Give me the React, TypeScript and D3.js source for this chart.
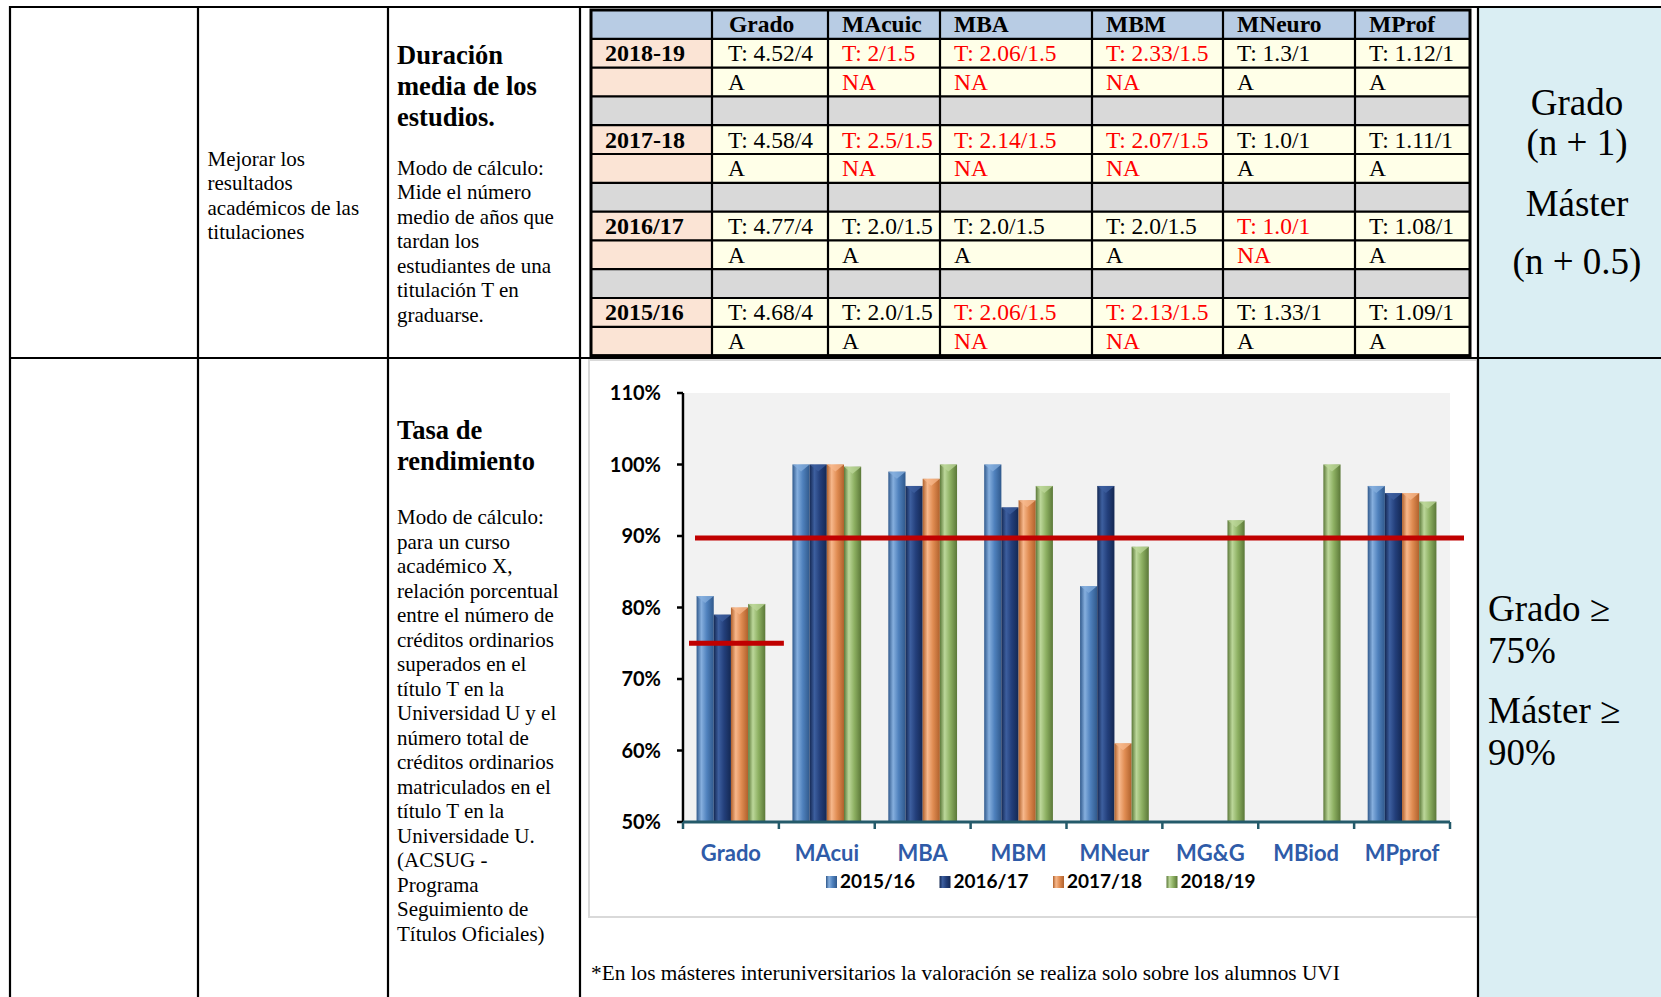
import React from 'react';
import * as d3 from 'd3';

// ---- chart data (Tasa de rendimiento) ----
const CATEGORIES = ['Grado', 'MAcui', 'MBA', 'MBM', 'MNeur', 'MG&G', 'MBiod', 'MPprof'];
const SERIES = ['2015/16', '2016/17', '2017/18', '2018/19'];
const RATE_2015_16 = [81.6, 100, 99, 100, 83, null, null, 97];
const RATE_2016_17 = [79, 100, 97, 94, 97, null, null, 96];
const RATE_2017_18 = [80, 100, 98, 95, 61, null, null, 96];
const RATE_2018_19 = [80.5, 99.7, 100, 97, 88.5, 92.2, 100, 94.8];
const Y_TICKS = [50, 60, 70, 80, 90, 100, 110];
const TARGET_GRADO = 75;
const TARGET_MASTER = 90;

// ---- table data (Duración media de los estudios) ----
const TITULOS = ['Grado', 'MAcuic', 'MBA', 'MBM', 'MNeuro', 'MProf'];
const CURSOS = ['2018-19', '2017-18', '2016/17', '2015/16'];
const DUR_2018_19 = ['T: 4.52/4', 'T: 2/1.5', 'T: 2.06/1.5', 'T: 2.33/1.5', 'T: 1.3/1', 'T: 1.12/1'];
const VAL_2018_19 = ['A', 'NA', 'NA', 'NA', 'A', 'A'];
const DUR_2017_18 = ['T: 4.58/4', 'T: 2.5/1.5', 'T: 2.14/1.5', 'T: 2.07/1.5', 'T: 1.0/1', 'T: 1.11/1'];
const VAL_2017_18 = ['A', 'NA', 'NA', 'NA', 'A', 'A'];
const DUR_2016_17 = ['T: 4.77/4', 'T: 2.0/1.5', 'T: 2.0/1.5', 'T: 2.0/1.5', 'T: 1.0/1', 'T: 1.08/1'];
const VAL_2016_17 = ['A', 'A', 'A', 'A', 'NA', 'A'];
const DUR_2015_16 = ['T: 4.68/4', 'T: 2.0/1.5', 'T: 2.06/1.5', 'T: 2.13/1.5', 'T: 1.33/1', 'T: 1.09/1'];
const VAL_2015_16 = ['A', 'A', 'NA', 'NA', 'A', 'A'];

const MEJORAR = ['Mejorar los', 'resultados', 'académicos de las', 'titulaciones'];
const DUR_TITLE = ['Duración', 'media de los', 'estudios.'];
const DUR_MODO = ['Modo de cálculo:', 'Mide el número', 'medio de años que', 'tardan los', 'estudiantes de una', 'titulación T en', 'graduarse.'];
const TASA_TITLE = ['Tasa de', 'rendimiento'];
const TASA_MODO = [
  'Modo de cálculo:', 'para un curso', 'académico X,', 'relación porcentual', 'entre el número de',
  'créditos ordinarios', 'superados en el', 'título T en la', 'Universidad U y el', 'número total de',
  'créditos ordinarios', 'matriculados en el', 'título T en la', 'Universidade U.', '(ACSUG -',
  'Programa', 'Seguimiento de', 'Títulos Oficiales)',
];
const FOOTNOTE = '*En los másteres interuniversitarios la valoración se realiza solo sobre los alumnos UVI';

const SERIES_COLORS = [
  { dark: '#30598c', mid: '#4f81bd', light: '#86afde' },
  { dark: '#142853', mid: '#233f7b', light: '#3d5f9f' },
  { dark: '#b0612c', mid: '#e08c52', light: '#f7b88c' },
  { dark: '#5b7838', mid: '#8db062', light: '#bcd79a' },
];

const SERIF = '"Liberation Serif", "Times New Roman", serif';
const SANS = 'Lato, Carlito, Calibri, sans-serif';

function Lines({ lines, x, y0, lh, size, bold = false }) {
  return (
    <g>
      {lines.map((t, i) => (
        <text key={i} x={x} y={y0 + i * lh} fontFamily={SERIF} fontSize={size} fontWeight={bold ? 700 : 400} fill="#000">
          {t}
        </text>
      ))}
    </g>
  );
}

function DuracionTable() {
  const colX = [591, 712, 828, 940, 1092, 1223, 1355, 1470];
  const top = 10;
  const rh = 28.8;
  const blocks = [
    [DUR_2018_19, VAL_2018_19],
    [DUR_2017_18, VAL_2017_18],
    [DUR_2016_17, VAL_2016_17],
    [DUR_2015_16, VAL_2015_16],
  ];
  const rows = [];
  // header
  rows.push({ kind: 'head' });
  blocks.forEach((b, i) => {
    rows.push({ kind: 'dur', curso: CURSOS[i], vals: b[0], status: b[1] });
    rows.push({ kind: 'val', vals: b[1], status: b[1] });
    if (i < blocks.length - 1) rows.push({ kind: 'gap' });
  });
  const bottom = top + rows.length * rh;
  const fs = 23.5;
  return (
    <g>
      {rows.map((r, ri) => {
        const ry = top + ri * rh;
        const base = ry + rh / 2 + 8;
        if (r.kind === 'gap') {
          return <rect key={ri} x={colX[0]} y={ry} width={colX[7] - colX[0]} height={rh} fill="#d9d9d9" />;
        }
        if (r.kind === 'head') {
          return (
            <g key={ri}>
              <rect x={colX[0]} y={ry} width={colX[7] - colX[0]} height={rh} fill="#b8cce4" />
              {TITULOS.map((t, ci) => (
                <text key={ci} x={colX[ci + 1] + (ci === 0 ? 17 : 14)} y={base} fontFamily={SERIF} fontSize={fs} fontWeight={700}>{t}</text>
              ))}
            </g>
          );
        }
        return (
          <g key={ri}>
            <rect x={colX[0]} y={ry} width={colX[1] - colX[0]} height={rh} fill="#fbe4d5" />
            <rect x={colX[1]} y={ry} width={colX[7] - colX[1]} height={rh} fill="#ffffe8" />
            {r.curso && (
              <text x={colX[0] + 14} y={base} fontFamily={SERIF} fontSize={24} fontWeight={700}>{r.curso}</text>
            )}
            {r.vals.map((t, ci) => (
              <text key={ci} x={colX[ci + 1] + (ci === 0 ? 16 : 14)} y={base} fontFamily={SERIF} fontSize={fs}
                fill={r.status[ci] === 'NA' ? '#ff0000' : '#000'}>{t}</text>
            ))}
          </g>
        );
      })}
      {d3.range(1, rows.length).map(i => (
        <line key={'h' + i} x1={colX[0]} x2={colX[7]} y1={top + i * rh} y2={top + i * rh} stroke="#000" strokeWidth={2.2} />
      ))}
      {colX.slice(1, 7).map((cx, i) => (
        <line key={'v' + i} x1={cx} x2={cx} y1={top} y2={bottom} stroke="#000" strokeWidth={2.2} />
      ))}
      <rect x={colX[0]} y={top} width={colX[7] - colX[0]} height={bottom - top} fill="none" stroke="#000" strokeWidth={3} />
    </g>
  );
}

function RendimientoChart() {
  const x = d3.scaleBand().domain(CATEGORIES).range([683, 1450]);
  const xs = d3.scaleBand().domain(SERIES).range([0, x.bandwidth()]).paddingOuter(0.79);
  const y = d3.scaleLinear().domain([50, 110]).range([822, 393]);
  const data = [RATE_2015_16, RATE_2016_17, RATE_2017_18, RATE_2018_19];
  const [x0, x1] = x.range();
  const [y0, y1] = y.range();
  return (
    <g>
      <defs>
        {SERIES_COLORS.map((c, i) => (
          <linearGradient key={i} id={'bar' + i} x1="0" x2="1" y1="0" y2="0">
            <stop offset="0" stopColor={c.dark} />
            <stop offset="0.28" stopColor={c.light} />
            <stop offset="0.6" stopColor={c.mid} />
            <stop offset="1" stopColor={c.dark} />
          </linearGradient>
        ))}
      </defs>
      <rect x={589} y={360} width={888} height={557} fill="#fff" stroke="#d9d9d9" strokeWidth={2} />
      <rect x={x0 + 2} y={y1} width={x1 - x0 - 2} height={y0 - y1} fill="#f2f2f2" />
      {data.map((vals, si) => (
        <g key={si}>
          {vals.map((v, ci) => {
            if (v == null) return null;
            const bx = x(CATEGORIES[ci]) + xs(SERIES[si]);
            const bw = xs.bandwidth();
            const by = y(v);
            return (
              <g key={ci}>
                <rect x={bx} y={by} width={bw} height={y0 - by} fill={`url(#bar${si})`} />
                <polygon points={`${bx},${by} ${bx + bw},${by} ${bx + bw / 2},${by + 7}`} fill={SERIES_COLORS[si].light} opacity={0.75} />
              </g>
            );
          })}
        </g>
      ))}
      {/* y axis */}
      <line x1={x0} x2={x0} y1={y1} y2={y0} stroke="#000" strokeWidth={2.5} />
      {Y_TICKS.map(t => (
        <g key={t}>
          <line x1={x0 - 6} x2={x0} y1={y(t)} y2={y(t)} stroke="#000" strokeWidth={2.5} />
          <text x={661} y={y(t) + 7} textAnchor="end" fontFamily={SANS} fontWeight={700} fontSize={20} fill="#000">{t}%</text>
        </g>
      ))}
      {/* x axis */}
      <line x1={x0} x2={x1} y1={y0} y2={y0} stroke="#245a6a" strokeWidth={3} />
      {CATEGORIES.map(c => (
        <line key={c} x1={x(c)} x2={x(c)} y1={y0} y2={y0 + 7} stroke="#245a6a" strokeWidth={2.5} />
      ))}
      <line x1={x1} x2={x1} y1={y0} y2={y0 + 7} stroke="#245a6a" strokeWidth={2.5} />
      {CATEGORIES.map(c => (
        <text key={c} x={x(c) + x.bandwidth() / 2} y={861} textAnchor="middle" fontFamily={SANS} fontWeight={700} fontSize={22} fill="#2f5ba8">{c}</text>
      ))}
      {/* targets */}
      <line x1={x('Grado') + 6} x2={x('MAcui') + 5} y1={y(TARGET_GRADO)} y2={y(TARGET_GRADO)} stroke="#c00000" strokeWidth={5} />
      <line x1={x('Grado') + 12} x2={x1 + 14} y1={y(TARGET_MASTER) + 2} y2={y(TARGET_MASTER) + 2} stroke="#c00000" strokeWidth={5} />
      {/* legend */}
      {SERIES.map((s, i) => {
        const lx = 826 + i * 113.5;
        return (
          <g key={s}>
            <rect x={lx} y={876} width={11} height={12} fill={`url(#bar${i})`} />
            <text x={lx + 14} y={888} fontFamily={SANS} fontWeight={700} fontSize={19} fill="#000">{s}</text>
          </g>
        );
      })}
    </g>
  );
}

export default function App() {
  return (
    <div style={{ position: 'absolute', left: 0, top: 0 }}>
      <svg width={1661} height={997} style={{ display: 'block', background: '#fff' }}>
        <rect x={1478} y={7} width={183} height={990} fill="#daeef3" />
        <DuracionTable />
        <RendimientoChart />

        <Lines lines={MEJORAR} x={207.5} y0={165.5} lh={24.5} size={21} />
        <Lines lines={DUR_TITLE} x={397} y0={64} lh={31} size={26.5} bold />
        <Lines lines={DUR_MODO} x={397} y0={174.5} lh={24.5} size={21} />
        <Lines lines={TASA_TITLE} x={397} y0={439} lh={31} size={26.5} bold />
        <Lines lines={TASA_MODO} x={397} y0={524} lh={24.53} size={21} />

        <text x={591} y={980} fontFamily={SERIF} fontSize={21.3}>{FOOTNOTE}</text>

        {['Grado', '(n + 1)', 'Máster', '(n + 0.5)'].map((t, i) => (
          <text key={i} x={1577} y={[115, 155, 216, 274][i]} textAnchor="middle" fontFamily={SERIF} fontSize={37}>{t}</text>
        ))}
        {['Grado ≥', '75%', 'Máster ≥', '90%'].map((t, i) => (
          <text key={i} x={1488} y={[621, 663, 723, 765][i]} fontFamily={SERIF} fontSize={37}>{t}</text>
        ))}

        {/* outer document table */}
        <line x1={9} x2={1661} y1={7} y2={7} stroke="#000" strokeWidth={2.2} />
        <line x1={9} x2={1661} y1={358} y2={358} stroke="#000" strokeWidth={2.2} />
        {[10, 198, 388, 580, 1478].map(vx => (
          <line key={vx} x1={vx} x2={vx} y1={6} y2={997} stroke="#000" strokeWidth={2.2} />
        ))}
      </svg>
    </div>
  );
}
